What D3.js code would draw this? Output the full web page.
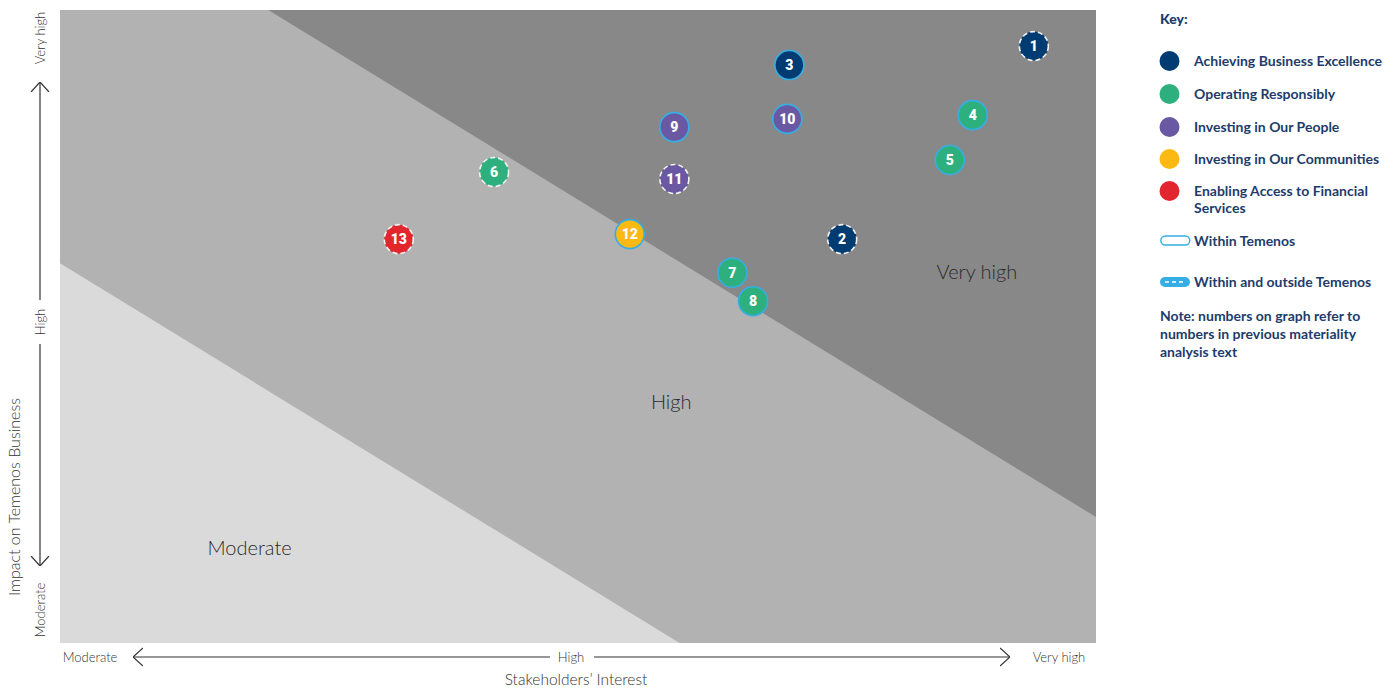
<!DOCTYPE html>
<html>
<head>
<meta charset="utf-8">
<script src="https://cdn.jsdelivr.net/npm/d3@7"></script>
<style>
  body { margin: 0; background: #fff; }
  svg { display: block; }
</style>
</head>
<body>
<div id="canvas"></div>
<script>
// topics on the materiality matrix (0-100 scale on both axes)
const topicIds = [1, 2, 3, 4, 5, 6, 7, 8, 9, 10, 11, 12, 13];
const interest = [94.0, 75.5, 70.4, 88.1, 85.9, 41.9, 64.9, 66.9, 59.3, 70.2, 59.3, 55.0, 32.7];
const impact   = [94.3, 63.8, 91.3, 83.4, 76.3, 74.4, 58.5, 54.0, 81.5, 82.8, 73.3, 64.6, 63.8];
const pillar   = [0, 0, 0, 1, 1, 1, 1, 1, 2, 2, 2, 3, 4];
const scope    = ["both", "both", "within", "within", "within", "both", "within", "within", "within", "within", "both", "within", "both"];

const pillarNames = ["Achieving Business Excellence", "Operating Responsibly", "Investing in Our People",
  "Investing in Our Communities", "Enabling Access to Financial|Services"];
const pillarColors = ["#003b71", "#2db07d", "#6a58a3", "#fdb913", "#e3262d"];

// band boundaries [interest, impact]
const veryHighEdge = [[20.1, 100], [100, 19.9]];
const moderateEdge = [[0, 60.0], [59.8, 0]];
const bandNames = [["Very high", 88.5, 57.5], ["High", 59.0, 37.0], ["Moderate", 18.3, 13.9]];

const axisTicks = ["Moderate", "High", "Very high"];

const W = 1397, H = 689;
const plot = { left: 60, top: 10, right: 1096, bottom: 643 };

const svg = d3.select("#canvas").append("svg")
  .attr("width", W).attr("height", H);

const x = d3.scaleLinear().domain([0, 100]).range([plot.left, plot.right]);
const y = d3.scaleLinear().domain([0, 100]).range([plot.bottom, plot.top]);

// background bands
svg.append("rect")
  .attr("x", x(0)).attr("y", y(100))
  .attr("width", x(100) - x(0)).attr("height", y(0) - y(100))
  .attr("fill", "#b2b2b2");

const poly = d3.line().x(d => x(d[0])).y(d => y(d[1]));
svg.append("path")
  .attr("d", poly([veryHighEdge[0], [100, 100], veryHighEdge[1]]) + "Z")
  .attr("fill", "#888888");
svg.append("path")
  .attr("d", poly([moderateEdge[0], [0, 0], moderateEdge[1]]) + "Z")
  .attr("fill", "#dadada");

svg.selectAll(".band-label")
  .data(bandNames)
  .enter().append("text")
  .attr("class", "band-label")
  .attr("x", d => x(d[1]))
  .attr("y", d => y(d[2]))
  .attr("text-anchor", "middle")
  .style("font-family", "Lato, sans-serif")
  .style("font-size", "20px")
  .style("font-weight", 300)
  .attr("fill", "#2a2a2a")
  .text(d => d[0]);

// arrow marker
const defs = svg.append("defs");
defs.append("marker")
  .attr("id", "arrow")
  .attr("viewBox", "0 0 10 20")
  .attr("refX", 10).attr("refY", 10)
  .attr("markerWidth", 10).attr("markerHeight", 20)
  .attr("markerUnits", "userSpaceOnUse")
  .attr("orient", "auto-start-reverse")
  .append("path")
  .attr("d", "M0,1 L10,10 L0,19")
  .attr("fill", "none")
  .attr("stroke", "#333")
  .attr("stroke-width", 1.2);

const axisFont = "Lato, sans-serif";

// x axis (stakeholders' interest)
const xa = svg.append("g");
xa.append("line").attr("x1", 133).attr("x2", 550).attr("y1", 657).attr("y2", 657)
  .attr("stroke", "#333").attr("stroke-width", 1.2).attr("marker-start", "url(#arrow)");
xa.append("line").attr("x1", 594).attr("x2", 1010).attr("y1", 657).attr("y2", 657)
  .attr("stroke", "#333").attr("stroke-width", 1.2).attr("marker-end", "url(#arrow)");
xa.selectAll("text.tick")
  .data(axisTicks)
  .enter().append("text")
  .attr("class", "tick")
  .attr("x", (d, i) => [90, 571, 1059][i])
  .attr("y", 662)
  .attr("text-anchor", "middle")
  .style("font-family", axisFont).style("font-size", "13px").style("font-weight", 300)
  .attr("fill", "#333")
  .text(d => d);
xa.append("text")
  .attr("x", 576).attr("y", 685)
  .attr("text-anchor", "middle")
  .style("font-family", axisFont).style("font-size", "15.5px").style("font-weight", 300)
  .attr("fill", "#333")
  .text("Stakeholders\u2019 Interest");

// y axis (impact on business)
const ya = svg.append("g");
ya.append("line").attr("x1", 40).attr("x2", 40).attr("y1", 82).attr("y2", 300)
  .attr("stroke", "#333").attr("stroke-width", 1.2).attr("marker-start", "url(#arrow)");
ya.append("line").attr("x1", 40).attr("x2", 40).attr("y1", 344).attr("y2", 566)
  .attr("stroke", "#333").attr("stroke-width", 1.2).attr("marker-end", "url(#arrow)");
ya.selectAll("text.tick")
  .data(axisTicks)
  .enter().append("text")
  .attr("class", "tick")
  .attr("transform", (d, i) => `translate(45,${[610, 322, 38][i]}) rotate(-90)`)
  .attr("text-anchor", "middle")
  .style("font-family", axisFont).style("font-size", "13px").style("font-weight", 300)
  .attr("fill", "#333")
  .text(d => d);
ya.append("text")
  .attr("transform", "translate(20,497) rotate(-90)")
  .attr("text-anchor", "middle")
  .style("font-family", axisFont).style("font-size", "16px").style("font-weight", 300)
  .attr("fill", "#333")
  .text("Impact on Temenos Business");

// topic bubbles
const topics = topicIds.map((id, i) => ({ id, x: interest[i], y: impact[i], p: pillar[i], s: scope[i] }));
const nodes = svg.selectAll(".topic")
  .data(topics)
  .enter().append("g")
  .attr("class", "topic")
  .attr("transform", d => `translate(${x(d.x)},${y(d.y)})`);

nodes.append("circle")
  .attr("r", 14.5)
  .attr("fill", d => pillarColors[d.p])
  .attr("stroke", d => d.s === "within" ? "#36aee4" : "#f2f2f2")
  .attr("stroke-width", 1.6)
  .attr("stroke-dasharray", d => d.s === "within" ? null : "5,3");

nodes.append("text")
  .attr("text-anchor", "middle")
  .attr("dy", "0.36em")
  .style("font-family", "Roboto, sans-serif")
  .style("font-weight", 900)
  .style("font-size", "14px")
  .attr("fill", "#fff")
  .text(d => d.id);

// key
const key = svg.append("g").attr("transform", "translate(1160,0)");
const keyFont = "Lato, sans-serif";
const navy = "#1d3c6c";
key.append("text")
  .attr("x", 0).attr("y", 24)
  .style("font-family", keyFont).style("font-weight", 900).style("font-size", "14px")
  .attr("fill", navy)
  .text("Key:");

const keyRows = [61, 94, 127, 159, 191];
const items = key.selectAll(".item")
  .data(pillarNames)
  .enter().append("g")
  .attr("class", "item")
  .attr("transform", (d, i) => `translate(0,${keyRows[i]})`);
items.append("circle")
  .attr("cx", 9.5).attr("cy", 0).attr("r", 10)
  .attr("fill", (d, i) => pillarColors[i]);
items.append("text")
  .attr("x", 34).attr("y", 5)
  .style("font-family", keyFont).style("font-weight", 700).style("font-size", "14px")
  .attr("fill", navy)
  .selectAll("tspan")
  .data(d => d.split("|"))
  .enter().append("tspan")
  .attr("x", 34)
  .attr("dy", (d, i) => i ? 17 : 0)
  .text(d => d);

key.append("rect")
  .attr("x", 0.8).attr("y", 236).attr("width", 29).attr("height", 9).attr("rx", 4.5)
  .attr("fill", "#fff").attr("stroke", "#36aee4").attr("stroke-width", 1.4);
key.append("text")
  .attr("x", 34).attr("y", 246)
  .style("font-family", keyFont).style("font-weight", 700).style("font-size", "14px")
  .attr("fill", navy)
  .text("Within Temenos");

key.append("rect")
  .attr("x", 0).attr("y", 277).attr("width", 30).attr("height", 10).attr("rx", 5)
  .attr("fill", "#36aee4");
key.append("line")
  .attr("x1", 5).attr("x2", 26).attr("y1", 282).attr("y2", 282)
  .attr("stroke", "#fff").attr("stroke-width", 1.4).attr("stroke-dasharray", "4,3");
key.append("text")
  .attr("x", 34).attr("y", 287)
  .style("font-family", keyFont).style("font-weight", 700).style("font-size", "14px")
  .attr("fill", navy)
  .text("Within and outside Temenos");

key.append("text")
  .attr("x", 0).attr("y", 321)
  .style("font-family", keyFont).style("font-weight", 700).style("font-size", "14px")
  .attr("fill", navy)
  .selectAll("tspan")
  .data(["Note: numbers on graph refer to", "numbers in previous materiality", "analysis text"])
  .enter().append("tspan")
  .attr("x", 0)
  .attr("dy", (d, i) => i ? 18 : 0)
  .text(d => d);
</script>
</body>
</html>
